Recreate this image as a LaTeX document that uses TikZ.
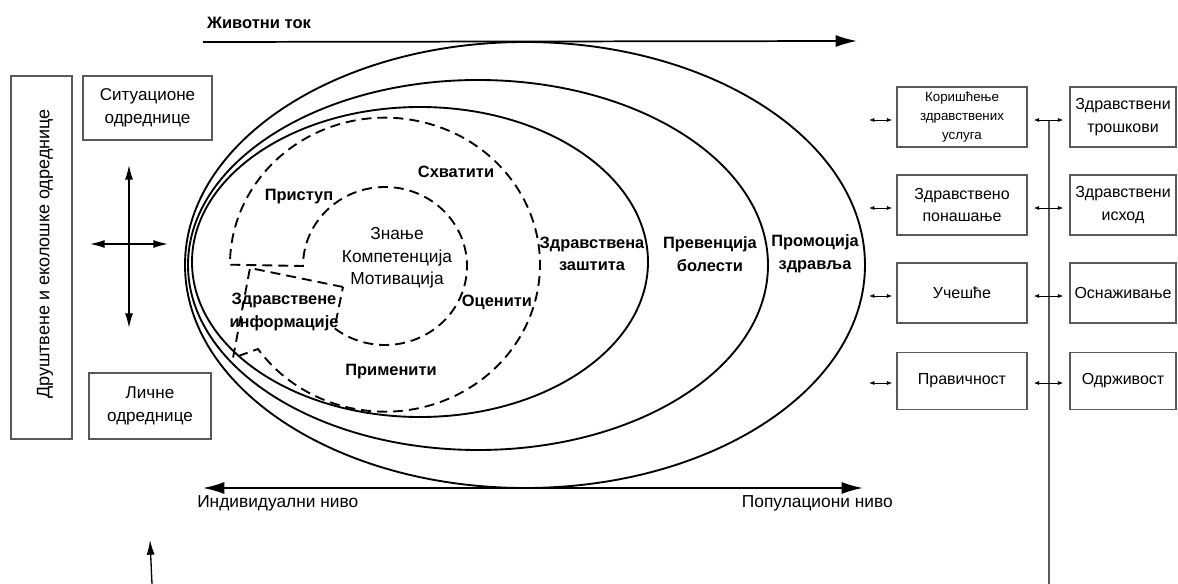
\documentclass[tikz,border=0pt]{standalone}
\usepackage{fontspec}
\setmainfont{Liberation Sans}
\usepackage{tikz}
\usetikzlibrary{arrows.meta}

\tikzset{
  box/.style={draw=black!65, line width=1.1pt, inner sep=0pt, align=center, font=\fontsize{12}{17}\selectfont},
  txt/.style={inner sep=0.75pt, align=center, font=\fontsize{13}{17}\selectfont},
  bold/.style={inner sep=0.75pt, align=center, font=\bfseries\fontsize{12.3}{17}\selectfont},
  ring/.style={line width=1.4pt},
  dashring/.style={line width=1.4pt, dash pattern={on 7.5pt off 4.5pt}},
  bigtip/.style={line width=1.3pt, -{Latex[length=16pt,width=9pt]}},
  bigtips/.style={line width=1.3pt, {Latex[length=16pt,width=9pt]}-{Latex[length=16pt,width=9pt]}},
  midtips/.style={line width=1pt, {Latex[length=11pt,width=6pt]}-{Latex[length=11pt,width=6pt]}},
  midtip/.style={line width=1pt, -{Latex[length=11pt,width=6pt]}},
  tinytips/.style={line width=0.6pt, {Latex[length=4pt,width=3pt]}-{Latex[length=4pt,width=3pt]}}
}

\begin{document}
\begin{tikzpicture}[x=0.75pt,y=0.75pt,yscale=-1,xscale=1]
\useasboundingbox (0,0) rectangle (1178,584);

%Shape: Ellipse
\draw [ring] (525,265) ellipse [x radius=340, y radius=223];
%Shape: Ellipse
\draw [ring] (478,265) ellipse [x radius=290, y radius=185];
%Shape: Ellipse
\draw [ring] (420,262) ellipse [x radius=228, y radius=155];
%Curve Lines
\draw [dashring] (343,287) -- (250,268) -- (233,358) -- (258,349) arc [start angle=145, end angle=-180, x radius=155, y radius=147] -- (303,266) arc [start angle=180, end angle=488, x radius=82, y radius=79] -- (343,287);

%Straight Lines
\coordinate (lifeS) at (203,42);
\coordinate (lifeE) at (857,41);
\draw [bigtip] (lifeS) -- (lifeE);
%Straight Lines
\coordinate (levelW) at (203,488);
\coordinate (levelE) at (863,488);
\draw [bigtips] (levelW) -- (levelE);

% Text Node
\node [bold, font=\bfseries\fontsize{12.4}{15}\selectfont] (life) at (259,23) {Животни ток};
% Text Node
\node [txt, anchor=west] (indiv) at (196,503) {Индивидуални ниво};
% Text Node
\node [txt, anchor=east] (popul) at (894,503) {Популациони ниво};

%Shape: Rectangle
\node [box, minimum width=45.75pt, minimum height=272.25pt] (social) at (41.5,257.5) {};
% Text Node
\node [txt, font=\fontsize{13.5}{17}\selectfont, rotate=90] (socialtxt) at (45,254) {Друштвене и еколошке одреднице};
%Shape: Rectangle
\node [box, font=\fontsize{12.8}{17}\selectfont, minimum width=96.75pt, minimum height=48pt] (situ) at (147.5,108) {Ситуационе\\одреднице};
%Shape: Rectangle
\node [box, font=\fontsize{12.8}{17}\selectfont, minimum width=91.5pt, minimum height=49.5pt] (pers) at (150,406) {Личне\\одреднице};

%Straight Lines
\coordinate (crossN) at (129,165);
\coordinate (crossS) at (129,328);
\coordinate (crossW) at (90,244);
\coordinate (crossE) at (168,244);
\draw [midtips] (crossN) -- (crossS);
\draw [midtips] (crossW) -- (crossE);
%Straight Lines
\coordinate (upS) at (152,584);
\coordinate (upE) at (150,540);
\draw [midtip] (upS) -- (upE);

% Text Node
\node [txt] (core) at (397,258) {Знање\\Компетенција\\Мотивација};
% Text Node
\node [bold] (access) at (299,197) {Приступ};
% Text Node
\node [bold] (grasp) at (456,172) {Схватити};
% Text Node
\node [bold] (info) at (284,312) {Здравствене\\информације};
% Text Node
\node [bold] (judge) at (497,302) {Оценити};
% Text Node
\node [bold] (apply) at (391,372) {Применити};
% Text Node
\node [bold] (care) at (592,254) {Здравствена\\заштита};
% Text Node
\node [bold] (prev) at (710,254) {Превенција\\болести};
% Text Node
\node [bold] (promo) at (815,254) {Промоција\\здравља};

%Shape: Rectangle
\node [box, font=\fontsize{10}{14}\selectfont, minimum width=97.5pt, minimum height=45pt] (service) at (962,117) {Коришћење\\здравствених\\услуга};
%Shape: Rectangle
\node [box, minimum width=97.5pt, minimum height=45pt] (behav) at (962,205) {Здравствено\\понашање};
%Shape: Rectangle
\node [box, minimum width=97.5pt, minimum height=45pt] (partic) at (962,293) {Учешће};
%Shape: Rectangle
\node [box, minimum width=97.5pt, minimum height=43pt] (equity) at (962,381) {Правичност};
%Shape: Rectangle
\node [box, minimum width=79.5pt, minimum height=45pt] (costs) at (1123,117) {Здравствени\\трошкови};
%Shape: Rectangle
\node [box, minimum width=79.5pt, minimum height=45pt] (outcome) at (1123,205) {Здравствени\\исход};
%Shape: Rectangle
\node [box, minimum width=79.5pt, minimum height=45pt] (empow) at (1123,293) {Оснаживање};
%Shape: Rectangle
\node [box, minimum width=79.5pt, minimum height=43pt] (sustain) at (1123,381) {Одрживост};

%Straight Lines
\coordinate (trunkT) at (1049,120);
\coordinate (trunkB) at (1049,584);
\draw [black!65, line width=1.1pt] (trunkT) -- (trunkB);

%Straight Lines
\coordinate (serviceL) at (869,120);
\coordinate (behavL) at (869,208);
\coordinate (particL) at (869,296);
\coordinate (equityL) at (869,383);
\draw [tinytips, shorten >=3pt] (serviceL) -- (service.west |- serviceL);
\draw [tinytips, shorten >=3pt] (behavL) -- (behav.west |- behavL);
\draw [tinytips, shorten >=3pt] (particL) -- (partic.west |- particL);
\draw [tinytips, shorten >=3pt] (equityL) -- (equity.west |- equityL);
%Straight Lines
\draw [tinytips, shorten <=4.5pt, shorten >=4.5pt] (service.east |- serviceL) -- (costs.west |- serviceL);
\draw [tinytips, shorten <=4.5pt, shorten >=4.5pt] (behav.east |- behavL) -- (outcome.west |- behavL);
\draw [tinytips, shorten <=4.5pt, shorten >=4.5pt] (partic.east |- particL) -- (empow.west |- particL);
\draw [tinytips, shorten <=4.5pt, shorten >=4.5pt] (equity.east |- equityL) -- (sustain.west |- equityL);

\end{tikzpicture}
\end{document}
